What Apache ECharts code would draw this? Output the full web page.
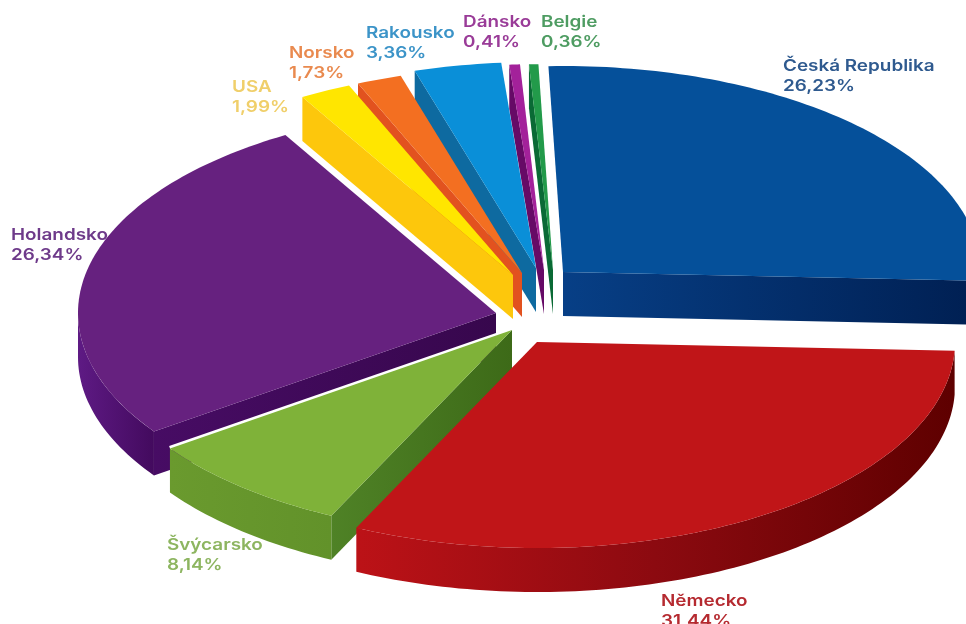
<!DOCTYPE html>
<html>
<head>
<meta charset="utf-8">
<style>html,body{margin:0;padding:0;background:#fff}#chart{width:966px;height:624px}</style>
<script src="https://cdn.jsdelivr.net/npm/echarts@6/dist/echarts.min.js"></script>
</head>
<body>
<div id="chart"></div>
<script>
// Export shares by country, in clockwise order from twelve o'clock.
const categories = ['Česká Republika', 'Německo', 'Švýcarsko', 'Holandsko', 'USA', 'Norsko', 'Rakousko', 'Dánsko', 'Belgie'];
const shares = [26.23, 31.44, 8.14, 26.34, 1.99, 1.73, 3.36, 0.41, 0.36];
const shareLabels = ['26,23%', '31,44%', '8,14%', '26,34%', '1,99%', '1,73%', '3,36%', '0,41%', '0,36%'];

// Pie geometry: an ellipse seen from above with an extruded rim.
const PIE = { cx: 520, cy: 300, rx: 418, ry: 206, depth: 44, startDeg: -2 };
// Per-slice pull-out from the pie centre.
const explode = [[43, -28], [17, 42], [-8, 30], [-24, 13], [-7, -25], [2, -27], [16, -32], [24, -30], [33, -30]];
// Painter's order, back slices first.
const paintRank = [0, 8, 7, 6, 5, 4, 3, 2, 1].reduce((r, s, i) => (r[s] = i, r), {});

const topColors = ['#05509a', '#c01518', '#7fb239', '#66217f', '#ffe600', '#f36f21', '#0a8fd8', '#a3219a', '#229a4a'];
const rimColors = [
  ['#0a4a90', '#0a4a90'],
  ['#bc1217', '#8c0a10', '#5e0000'],
  ['#6a9a2e', '#62922a'],
  ['#5e1a84', '#430a5e'],
  ['#fdc70c', '#fdc70c'],
  ['#e2521f', '#e2521f'],
  ['#0e6aa0', '#0e6aa0'],
  ['#660a66', '#660a66'],
  ['#0a6a35', '#0a6a35']
];
const edgeColors = [
  ['#073f86', '#001f52'],
  ['#8c0a10', '#8c0a10'],
  ['#4f8226', '#3d6a18'],
  ['#470c64', '#37074d'],
  ['#fdc70c', '#fdc70c'],
  ['#e2521f', '#e2521f'],
  ['#0e6aa0', '#0e6aa0'],
  ['#660a66', '#660a66'],
  ['#0a6a35', '#0a6a35']
];
const labelColors = ['#2f5a8f', '#b52a30', '#8db560', '#6e3a8a', '#f0cf6a', '#e98a4f', '#3c94c8', '#9a3c98', '#4e9c62'];
const labelAnchors = [[783, 58], [661, 593], [167, 537], [11, 227], [232, 79], [289, 45], [366, 25], [463, 14], [541, 14]];
const LABEL_LINE = 20.5;
const LABEL_STRETCH = 1.18;

const total = shares.reduce((a, b) => a + b, 0);
const starts = [];
shares.reduce((acc, v, i) => (starts[i] = acc, acc + v), 0);

function rad(share) { return (PIE.startDeg + share / total * 360) * Math.PI / 180; }

function fillOf(stops) {
  // Horizontal shading along a wall.
  return new echarts.graphic.LinearGradient(0, 0, 1, 0,
    stops.map((c, i) => ({ offset: i / (stops.length - 1), color: c })));
}

function renderSlice(params, api) {
  const i = params.dataIndex;
  const value = api.value(0);
  const a0 = rad(starts[i]);
  const a1 = rad(starts[i] + value);
  const ox = PIE.cx + explode[i][0];
  const oy = PIE.cy + explode[i][1];
  const at = (a, down) => [ox + PIE.rx * Math.sin(a), oy - PIE.ry * Math.cos(a) + (down || 0)];

  const steps = Math.max(4, Math.ceil((a1 - a0) / 0.02));
  const arc = [];
  for (let k = 0; k <= steps; k++) arc.push(at(a0 + (a1 - a0) * k / steps));

  const base = paintRank[i] * 10;
  const children = [];

  const wall = (points, stops, z) => children.push({
    type: 'polygon',
    z2: base + z,
    shape: { points },
    style: { fill: fillOf(stops), stroke: null }
  });

  // Radial faces that turn toward the viewer.
  if (i > 0 && Math.sin(a0) < 0) {
    wall([[ox, oy], at(a0), at(a0, PIE.depth), [ox, oy + PIE.depth]], edgeColors[i], 1);
  }
  if (Math.sin(a1) > 0) {
    wall([[ox, oy], at(a1), at(a1, PIE.depth), [ox, oy + PIE.depth]], edgeColors[i], 1);
  }

  // Outer rim, only on the near half of the ellipse.
  const lo = Math.max(a0, Math.PI / 2);
  const hi = Math.min(a1, Math.PI * 1.5);
  if (hi > lo) {
    const n = Math.ceil((hi - lo) / 0.02);
    const upper = [], lower = [];
    for (let k = 0; k <= n; k++) {
      const a = lo + (hi - lo) * k / n;
      upper.push(at(a));
      lower.push(at(a, PIE.depth));
    }
    wall(upper.concat(lower.reverse()), rimColors[i], 2);
  }

  // White gap where the green slice sits in front of its purple neighbour.
  if (categories[i] === 'Švýcarsko') {
    children.push({
      type: 'polyline',
      z2: base,
      shape: { points: [[ox, oy], at(a1)] },
      style: { fill: null, stroke: '#fff', lineWidth: 5 }
    });
  }

  // Top face.
  children.push({
    type: 'polygon',
    z2: base + 3,
    shape: { points: [[ox, oy]].concat(arc) },
    style: { fill: topColors[i], stroke: null }
  });

  // Country name and share, widened to the poster's extended lettering.
  [categories[i], shareLabels[i]].forEach((t, k) => children.push({
    type: 'text',
    z2: 500,
    x: labelAnchors[i][0],
    y: labelAnchors[i][1] + k * LABEL_LINE,
    scaleX: LABEL_STRETCH,
    style: {
      x: 0,
      y: 0,
      text: t,
      fill: labelColors[i],
      font: '600 16px Inter, "Noto Sans", sans-serif',
      textAlign: 'left',
      textVerticalAlign: 'top'
    }
  }));

  return { type: 'group', children };
}

const chart = echarts.init(document.getElementById('chart'), null, { renderer: 'canvas' });
chart.setOption({
  animation: false,
  backgroundColor: '#fff',
  series: [{
    type: 'custom',
    coordinateSystem: 'none',
    silent: true,
    clip: false,
    data: shares.map((v, i) => ({ name: categories[i], value: [v] })),
    renderItem: renderSlice
  }]
});
</script>
</body>
</html>
